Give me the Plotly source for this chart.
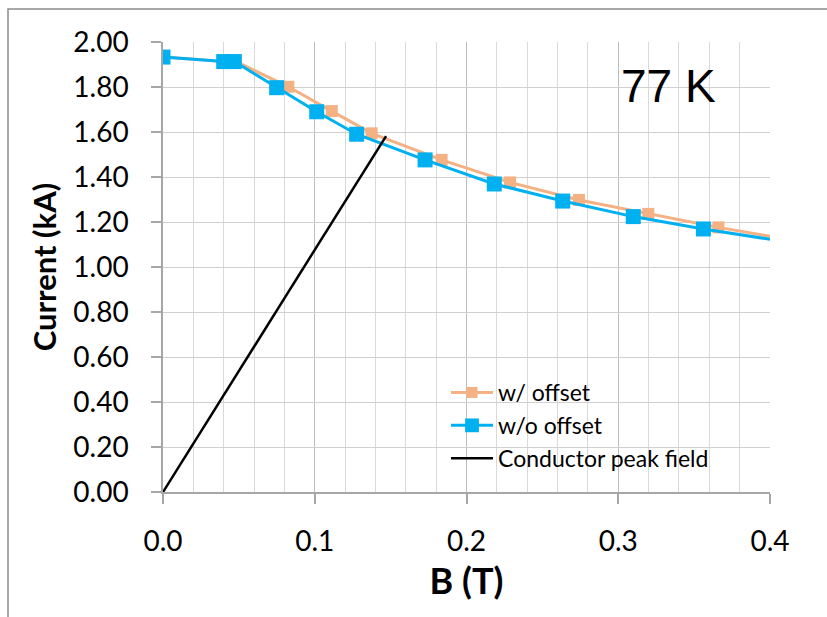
import plotly.graph_objects as go

# Data
b_wo = [0.0, 0.040, 0.047, 0.0749, 0.1013, 0.1276, 0.1727, 0.2183, 0.2634, 0.3099, 0.3561, 0.402]
i_wo = [1.933, 1.913, 1.913, 1.797, 1.690, 1.590, 1.476, 1.369, 1.293, 1.224, 1.169, 1.121]

b_w = [0.0, 0.041, 0.048, 0.0826, 0.1112, 0.1375, 0.1836, 0.2287, 0.2741, 0.3198, 0.3660, 0.412]
i_w = [1.933, 1.913, 1.913, 1.801, 1.693, 1.594, 1.476, 1.376, 1.298, 1.236, 1.176, 1.122]

b_peak = [0.0, 0.147]
i_peak = [0.0, 1.582]

label_temp = "77 K"

W, H = 827, 617
ML, MR, MT, MB = 163, 57, 42, 125
pw, ph = W - ML - MR, H - MT - MB

def px(x):
    return (x - ML) / pw

def py(y):
    return (H - MB - y) / ph

fig = go.Figure()

size_w = [12] * (len(b_w) - 1) + [0]
size_wo = [15] * (len(b_wo) - 1) + [0]

fig.add_trace(go.Scatter(
    x=b_w, y=i_w, mode="lines+markers", name="w/ offset",
    line=dict(color="#F4B183", width=3),
    marker=dict(symbol="square", size=size_w, color="#F4B183", opacity=1, line=dict(width=0)),
))
fig.add_trace(go.Scatter(
    x=b_wo, y=i_wo, mode="lines+markers", name="w/o offset",
    line=dict(color="#00B0F0", width=3),
    marker=dict(symbol="square", size=size_wo, color="#00B0F0", opacity=1, line=dict(width=0)),
))
fig.add_trace(go.Scatter(
    x=b_peak, y=i_peak, mode="lines", name="Conductor peak field",
    line=dict(color="#000000", width=2.5),
))

fig.add_annotation(
    x=0.3334, y=1.805, xref="x", yref="y", text=label_temp, showarrow=False,
    font=dict(family="Liberation Sans, Arial", size=46, color="#000000"),
)

# outer chart border (top and left visible)
fig.add_shape(type="rect", xref="paper", yref="paper",
              x0=px(8), x1=px(900), y0=py(700), y1=py(9),
              line=dict(color="#8c8c8c", width=1.5), fillcolor="rgba(0,0,0,0)")

fig.update_layout(
    width=W, height=H,
    margin=dict(l=ML, r=MR, t=MT, b=MB),
    paper_bgcolor="white", plot_bgcolor="white",
    font=dict(family="Lato, Noto Sans, sans-serif", color="#000000"),
    showlegend=True,
    legend=dict(
        x=px(446), y=py(371), xanchor="left", yanchor="top",
        bgcolor="rgba(0,0,0,0)", font=dict(family="Lato", size=23, color="#000000"),
        itemwidth=42, tracegroupgap=0,
    ),
    xaxis=dict(
        range=[0, 0.4], dtick=0.1, tick0=0, tickformat=".1f",
        showgrid=True, gridcolor="#bdbdbd", gridwidth=1,
        minor=dict(dtick=0.02, showgrid=True, gridcolor="#d9d9d9", gridwidth=1, ticks=""),
        showline=True, linecolor="#a6a6a6", linewidth=1.5,
        ticks="outside", ticklen=10, tickcolor="#a6a6a6", tickwidth=1.5,
        zeroline=False,
        tickfont=dict(family="Lato", size=28, color="#000000"),
        ticklabelstandoff=14,
        title=dict(text="<b>B (T)</b>", font=dict(family="Lato", size=36, color="#000000"), standoff=12),
    ),
    yaxis=dict(
        range=[0, 2.0], dtick=0.2, tick0=0, tickformat=".2f",
        showgrid=True, gridcolor="#d0d0d0", gridwidth=1,
        showline=True, linecolor="#a6a6a6", linewidth=1.5,
        ticks="outside", ticklen=10, tickcolor="#a6a6a6", tickwidth=1.5,
        zeroline=False,
        tickfont=dict(family="Lato", size=28, color="#000000"),
        ticklabelstandoff=17,
        title=dict(text="<b>Current (kA)</b>", font=dict(family="Lato", size=31, color="#000000"), standoff=7),
    ),
)

fig.write_html("out.html")
